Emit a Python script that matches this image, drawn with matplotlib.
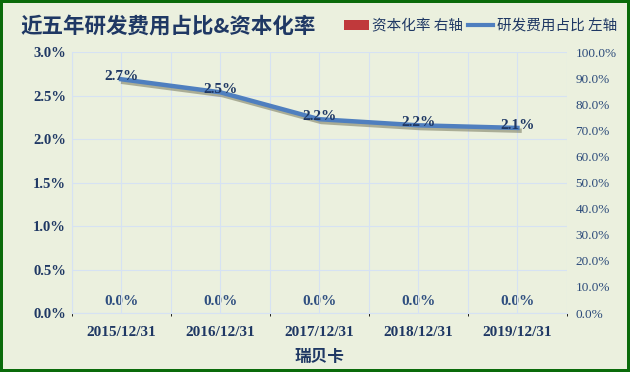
import numpy as np
import matplotlib.pyplot as plt
import matplotlib.patheffects as pe
from matplotlib.lines import Line2D
from matplotlib.patches import Patch

plt.rcParams['font.family'] = ['Liberation Serif', 'Noto Sans CJK SC', 'DejaVu Sans']

# 数据
years = ['2015/12/31', '2016/12/31', '2017/12/31', '2018/12/31', '2019/12/31']
rd_ratio = [2.69, 2.54, 2.23, 2.16, 2.13]      # 研发费用占比 (%) 左轴
cap_rate = [0.0, 0.0, 0.0, 0.0, 0.0]           # 资本化率 (%) 右轴
company = '瑞贝卡'

navy = '#1f3864'
bg = '#ebf0de'
grid_c = '#d6e2f3'

fig = plt.figure(figsize=(6.3, 3.72), dpi=100)
fig.patch.set_facecolor(bg)
fig.patch.set_edgecolor('#0a6b0a')
fig.patch.set_linewidth(3)

ax = fig.add_axes([0.1137, 0.1586, 0.7863, 0.7008])
ax.set_facecolor(bg)
ax2 = ax.twinx()

x = np.arange(len(years))

# 资本化率柱 (右轴)
ax2.bar(x, cap_rate, width=0.5, color='#c0393b')
for xi, v in zip(x, cap_rate):
    ax2.text(xi, 4.3, f'{v:.1f}%', ha='center', va='center', fontsize=11,
             fontweight='bold', color='#2f4f80')
ax2.set_ylim(0, 100)
ax2.set_yticks(np.arange(0, 101, 10))
ax2.set_yticklabels([f'{t:.1f}%' for t in np.arange(0, 101, 10)], fontsize=9.5, color='#2b4a7a')

# 研发费用占比线 (左轴)
ax.plot(x, rd_ratio, color='#4f7fbf', lw=3.2, zorder=3,
        path_effects=[pe.SimpleLineShadow(offset=(1.5, -2), shadow_color='#6b6b50', alpha=0.5),
                      pe.Normal()])
for xi, v in zip(x, rd_ratio):
    ax.text(xi, v + 0.03, f'{v:.1f}%', ha='center', va='center', fontsize=11,
            fontweight='bold', color=navy, zorder=4)
ax.set_zorder(ax2.get_zorder() + 1)
ax.patch.set_visible(False)
ax2.patch.set_visible(True)
ax2.patch.set_facecolor(bg)

ax.set_ylim(0, 3.0)
ax.set_yticks(np.arange(0, 3.01, 0.5))
ax.set_yticklabels([f'{t:.1f}%' for t in np.arange(0, 3.01, 0.5)], fontsize=10.5,
                   fontweight='bold', color=navy)
ax.set_xlim(-0.5, len(years) - 0.5)
ax.set_xticks(x)
ax.set_xticklabels(years, fontsize=11, fontweight='bold', color=navy)
ax.set_xticks(np.arange(-0.5, len(years)), minor=True)
ax.grid(True, which='both', color=grid_c, lw=0.8)
ax.set_axisbelow(True)
ax.set_xlabel(company, fontsize=12, fontweight='bold', color=navy,
              family=['Noto Sans CJK SC'], labelpad=7)

for a in (ax, ax2):
    for s in a.spines.values():
        s.set_visible(False)
    a.tick_params(length=0)
ax.spines['left'].set_visible(True)
ax.spines['left'].set_color(grid_c)
ax.spines['bottom'].set_visible(True)
ax.spines['bottom'].set_color(grid_c)
ax.tick_params(axis='x', pad=9)
ax.tick_params(axis='y', pad=4)
ax2.tick_params(axis='y', pad=6)

fig.text(0.032, 0.93, '近五年研发费用占比&资本化率', fontsize=15.5, fontweight='bold',
         color='#1f3864', va='center', family=['Noto Sans CJK SC'])

handles = [Patch(facecolor='#c0393b'), Line2D([0], [0], color='#4f7fbf', lw=3)]
fig.legend(handles, ['资本化率 右轴', '研发费用占比 左轴'], ncol=2, loc='center left',
           bbox_to_anchor=(0.525, 0.93), frameon=False, handlelength=1.7,
           handletextpad=0.25, columnspacing=0.35,
           prop={'family': 'Noto Sans CJK SC', 'size': 10.5})
for t in fig.legends[0].get_texts():
    t.set_color(navy)

fig.savefig('out.png', dpi=100, facecolor=bg, edgecolor='#0a6b0a')
